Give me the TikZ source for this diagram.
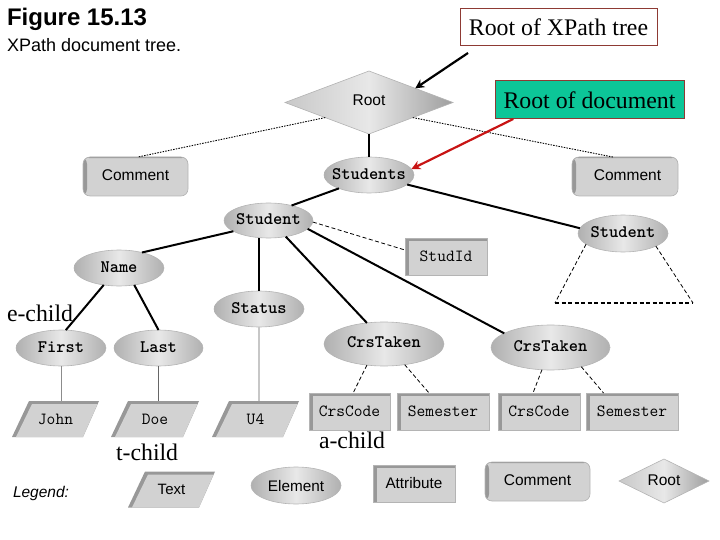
\documentclass[tikz,border=0pt]{standalone}
\usepackage{fontspec}
\setmainfont{Liberation Serif}
\setsansfont{Liberation Sans}
\usetikzlibrary{shapes.geometric,arrows.meta,calc}
\definecolor{strip}{HTML}{989898}
\definecolor{bodygray}{HTML}{D2D2D2}
\definecolor{edgegray}{HTML}{B4B4B4}
\definecolor{shadeedge}{HTML}{B0B0B0}
\definecolor{shademid}{HTML}{E8E8E8}
\definecolor{calloutred}{HTML}{8E3A34}
\definecolor{calloutgreen}{HTML}{0CC698}
\definecolor{arrowred}{HTML}{C81414}
\newcommand{\sansat}[1]{\fontsize{#1}{#1}\selectfont\sffamily}
\newcommand{\monoat}[1]{\fontsize{#1}{#1}\selectfont\ttfamily}
\newcommand{\textshape}[5]{%
  \fill[strip,shift={(#2,#3)}] (-#4,18) -- (-#4+17,-18) -- (#4,-18) -- (#4-16,18) -- cycle;
  \fill[bodygray,shift={(#2,#3)}] (-#4+4,18) -- (-#4+20,-15) -- (#4-1.5,-15) -- (#4-16,18) -- cycle;
  \node[textspot] (#1) at (#2,#3) {#5};}
\tikzset{
  every node/.style={inner sep=0,outer sep=0},
  elembox/.style={ellipse,inner xsep=-8pt,draw=edgegray,line width=.6pt,left color=shadeedge,right color=shadeedge,middle color=shademid,font=\monoat{17.6}\bfseries,text depth=2pt},
  rootbox/.style={diamond,draw=edgegray,line width=.6pt,left color=shadeedge!70!white,right color=shadeedge!90!black,middle color=shademid,font=\sansat{15.5}},
  attrbox/.style={rectangle,draw=edgegray,line width=.6pt,fill=bodygray,font=\monoat{17},
    path picture={\fill[strip] (path picture bounding box.north west) rectangle ([xshift=4pt]path picture bounding box.south west);
      \fill[strip] (path picture bounding box.north west) rectangle ([yshift=-3pt]path picture bounding box.north east);}},
  combox/.style={rectangle,rounded corners=7pt,draw=edgegray,line width=.6pt,fill=bodygray,font=\sansat{15.5},
    path picture={\fill[strip] (path picture bounding box.north west) rectangle ([xshift=4pt]path picture bounding box.south west);
      \fill[strip] (path picture bounding box.north west) rectangle ([yshift=-1.2pt]path picture bounding box.north east);}},
  textspot/.style={rectangle,minimum width=60pt,minimum height=36pt,font=\monoat{17}},
  callout/.style={rectangle,draw=calloutred,line width=1pt,font=\fontsize{23.8}{23.8}\selectfont},
  handlabel/.style={font=\fontsize{23.8}{23.8}\selectfont},
  heavy/.style={line width=2pt,black},
  dashline/.style={line width=.8pt,black,dash pattern=on 4pt off 2.5pt},
  dotline/.style={line width=.9pt,black,dash pattern=on 1.5pt off 1.2pt},
  valueline/.style={line width=1pt},
  pointer/.style={line width=2.2pt,-{Stealth[length=9pt,width=9pt]}},
}
\begin{document}
\begin{tikzpicture}[x=1pt,y=-1pt]
\useasboundingbox (0,0) rectangle (720,540);
% titles
\node[anchor=west,font=\sansat{24}\bfseries] (title) at (7,19) {Figure 15.13};
\node[anchor=west,font=\sansat{18}] (subtitle) at (7,45) {XPath document tree.};
% callouts
\node[callout,fill=white,minimum width=197pt,minimum height=37pt] (rootx) at (558.5,27.5) {Root of XPath tree};
\node[callout,fill=calloutgreen,minimum width=189pt,minimum height=38pt] (rootdoc) at (589.5,100) {Root of document};
% tree
\node[rootbox,shape aspect=2.66,minimum width=168pt,minimum height=63pt] (root) at (369,102.5) {\raisebox{5pt}{Root}};
\node[elembox,minimum width=90pt,minimum height=36pt] (students) at (369,175) {Students};
\node[combox,minimum width=105pt,minimum height=39pt] (comleft) at (135.5,176.5) {\raisebox{3.5pt}{Comment}};
\node[combox,minimum width=106pt,minimum height=39pt] (comright) at (625,176.5) {\hspace*{5pt}\raisebox{3.5pt}{Comment}};
\node[elembox,minimum width=89pt,minimum height=35pt] (student) at (268.5,220.5) {Student};
\node[elembox,minimum width=90pt,minimum height=37pt] (studentb) at (623,233.5) {Student};
\node[attrbox,minimum width=82pt,minimum height=37pt] (studid) at (446,256.5) {StudId};
\node[elembox,minimum width=90pt,minimum height=36pt] (name) at (119,268) {Name};
\node[elembox,minimum width=90pt,minimum height=36pt] (status) at (259,309) {Status};
\node[elembox,minimum width=90pt,minimum height=36pt] (first) at (61,348) {First};
\node[elembox,minimum width=89pt,minimum height=36pt] (last) at (158.5,348) {Last};
\node[elembox,minimum width=120pt,minimum height=44pt] (crsa) at (384,344) {\raisebox{2pt}{CrsTaken}};
\node[elembox,minimum width=119pt,minimum height=45pt] (crsb) at (550.5,347.5) {CrsTaken};
\textshape{john}{55.5}{419}{43.5}{John}
\textshape{doe}{155}{419}{44}{Doe}
\textshape{ufour}{255.5}{419}{43.5}{U4}
\node[attrbox,minimum width=81pt,minimum height=37pt] (codea) at (349.5,411.5) {CrsCode};
\node[attrbox,minimum width=92pt,minimum height=37pt] (sema) at (443,411.5) {Semester};
\node[attrbox,minimum width=82pt,minimum height=37pt] (codeb) at (539,411.5) {CrsCode};
\node[attrbox,minimum width=92pt,minimum height=37pt] (semb) at (632,411.5) {Semester};
% corner points of the subtree triangle
\coordinate (triL) at (555,303);
\coordinate (triR) at (693,303);
\coordinate (xstart) at (468,53);
% connectors
\draw[dotline] (root.199) -- (comleft.83);
\draw[dotline] (root.341) -- (comright.122);
\draw[heavy] (root.south) -- (students.north);
\draw[heavy] (students.204) -- (student.33);
\draw[heavy] (students.-14) -- (studentb.173);
\draw[heavy] (student.197) -- (name.34);
\draw[heavy] (student.south -| status.north) -- (status.north);
\draw[heavy] (student.-43) -- (crsa.129);
\draw[heavy] (student.-12) -- (crsb.163);
\draw[dashline] (student.-2) -- (studid.171);
\draw[heavy] (name.228) -- (first.75);
\draw[heavy] (name.-48) -- (last.north);
\draw[dashline] (studentb.196) -- (triL);
\draw[dashline] (studentb.-21) -- (triR);
\draw[dashline,line width=1.1pt] (triL) -- (triR);
\draw[valueline,color=black!45] (first.south) -- (first.south |- john.north);
\draw[valueline,color=black!60] (last.south) -- (last.south |- doe.north);
\draw[line width=2pt,color=black!22] (status.south) -- (status.south |- ufour.north);
\draw[dashline] (crsa.231) -- (codea.79);
\draw[dashline] (crsa.-45) -- (sema.127);
\draw[dashline] (crsb.249) -- (codeb.108);
\draw[dashline] (crsb.-32) -- (semb.147);
% pointers
\draw[pointer,black] (xstart) -- (root.17);
\draw[pointer,arrowred] (rootdoc.194.5) -- (students.8);
% hand labels
\node[handlabel,anchor=west] (echild) at (7,313) {e-child};
\node[handlabel,anchor=west] (tchild) at (116,452) {t-child};
\node[handlabel,anchor=west] (achild) at (319,440) {a-child};
% legend
\node[anchor=west,font=\sansat{15.5}\itshape] (legend) at (13,493) {Legend:};
\textshape{legtext}{171.5}{489.5}{43.5}{\sansat{15}\raisebox{1pt}{Text}}
\node[elembox,minimum width=90pt,minimum height=37pt,font=\sansat{15.3},text depth=0pt] (legelem) at (296,485.5) {Element};
\node[attrbox,minimum width=82pt,minimum height=37pt,font=\sansat{15.3}] (legattr) at (414,483.5) {Attribute};
\node[combox,minimum width=105pt,minimum height=39pt] (legcom) at (537.5,481.5) {\raisebox{2.5pt}{Comment}};
\node[rootbox,shape aspect=2.04,minimum width=90pt,minimum height=44pt] (legroot) at (664,481) {\raisebox{1.5pt}{Root}};
\end{tikzpicture}
\end{document}
